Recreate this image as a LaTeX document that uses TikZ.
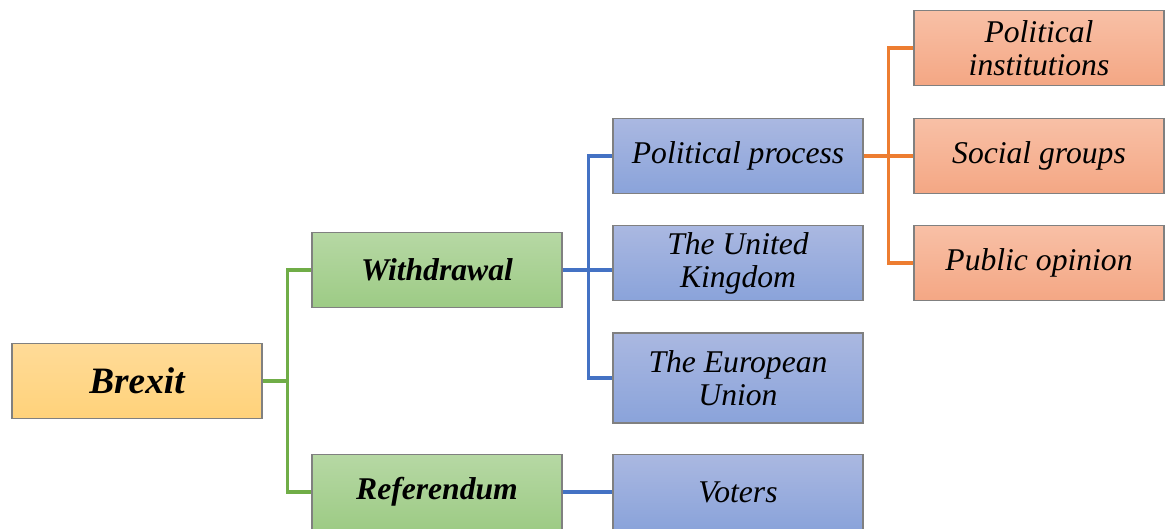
\documentclass[tikz,border=0pt]{standalone}
\usepackage{fontspec}
\setmainfont{Liberation Serif}

\begin{document}
\begin{tikzpicture}[x=0.02cm, y=-0.02cm]
  \definecolor{rootTop}{RGB}{255,219,152}
  \definecolor{rootBot}{RGB}{255,210,122}
  \definecolor{greenTop}{RGB}{182,216,164}
  \definecolor{greenBot}{RGB}{157,203,133}
  \definecolor{blueTop}{RGB}{170,184,225}
  \definecolor{blueBot}{RGB}{138,163,218}
  \definecolor{orangeTop}{RGB}{248,192,166}
  \definecolor{orangeBot}{RGB}{244,167,132}
  \definecolor{greenLine}{RGB}{112,173,71}
  \definecolor{blueLine}{RGB}{68,114,196}
  \definecolor{orangeLine}{RGB}{237,125,49}
  \tikzstyle{box}=[draw=black!50, line width=0.8pt, minimum width=5cm, minimum height=1.5cm,
    align=center, inner sep=2pt, font=\fontsize{18}{18.8}\selectfont\itshape]
  \tikzstyle{rootbox}=[box, top color=rootTop, bottom color=rootBot, font=\fontsize{21.2}{22}\selectfont\bfseries\itshape]
  \tikzstyle{greenbox}=[box, top color=greenTop, bottom color=greenBot, font=\fontsize{18}{18.8}\selectfont\bfseries\itshape]
  \tikzstyle{bluebox}=[box, top color=blueTop, bottom color=blueBot]
  \tikzstyle{orangebox}=[box, top color=orangeTop, bottom color=orangeBot]
  \tikzstyle{link}=[line width=2pt]

  \useasboundingbox (0,0) rectangle (1170,528);

  \node[rootbox] (brexit) at (137,381) {Brexit};
  \node[greenbox] (withdrawal) at (437,270) {Withdrawal};
  \node[greenbox] (referendum) at (437,492) {Referendum};
  \node[bluebox] (process) at (738,156) {Political process};
  \node[bluebox] (uk) at (738,263) {The United\\Kingdom};
  \node[bluebox, minimum height=1.8cm] (eu) at (738,378) {The European\\Union};
  \node[bluebox] (voters) at (738,492) {Voters};
  \node[orangebox] (institutions) at (1039,48) {Political\\institutions};
  \node[orangebox] (groups) at (1039,156) {Social groups};
  \node[orangebox] (opinion) at (1039,263) {Public opinion};

  \draw[link, greenLine] (brexit.east) -- ++(25,0) |- (withdrawal.west);
  \draw[link, greenLine] (brexit.east) -- ++(25,0) |- (referendum.west);
  \draw[link, blueLine] (withdrawal.east) -- ++(26,0) |- (process.west);
  \draw[link, blueLine] (withdrawal.east) -- (uk.west |- withdrawal.east);
  \draw[link, blueLine] (withdrawal.east) -- ++(26,0) |- (eu.west);
  \draw[link, blueLine] (referendum.east) -- (voters.west);
  \draw[link, orangeLine] (process.east) -- ++(25,0) |- (institutions.west);
  \draw[link, orangeLine] (process.east) -- (groups.west);
  \draw[link, orangeLine] (process.east) -- ++(25,0) |- (opinion.west);
\end{tikzpicture}
\end{document}
